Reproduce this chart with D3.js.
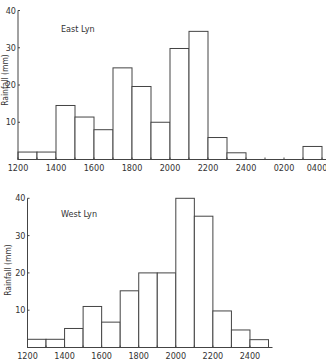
<!DOCTYPE html>
<html>
<head>
<meta charset="utf-8">
<script src="https://cdn.jsdelivr.net/npm/d3@7"></script>
<style>
  body { margin: 0; background: #fff; }
  text { font-family: "Liberation Sans Narrow", "DejaVu Sans Condensed", "Liberation Sans", sans-serif; fill: #333; }
</style>
</head>
<body>
<div id="chart-container"></div>
<script>
// Bin edges (hour labels) and rainfall per bin
const eastEdges = ["1200", "1300", "1400", "1500", "1600", "1700", "1800", "1900", "2000",
    "2100", "2200", "2300", "2400", "0100", "0200", "0300", "0400"];
const eastValues = [2, 2, 14.5, 11.4, 8, 24.6, 19.6, 10, 29.8, 34.4, 5.9, 1.8, 0, 0, 0, 3.5];
const eastTickLabels = ["1200", "1400", "1600", "1800", "2000", "2200", "2400", "0200", "0400"];

const westEdges = ["1200", "1300", "1400", "1500", "1600", "1700", "1800", "1900", "2000",
    "2100", "2200", "2300", "2400", "2500"];
const westValues = [2.2, 2.2, 5.1, 11, 6.8, 15.2, 20, 20, 40, 35.2, 9.8, 4.7, 2.1];
const westTickLabels = ["1200", "1400", "1600", "1800", "2000", "2200", "2400"];

const yTicks = [10, 20, 30, 40];

const svg = d3.select('#chart-container')
    .append('svg')
    .attr('width', 326)
    .attr('height', 361);

function drawPanel(opts) {
    const g = svg.append('g');

    const xScale = d3.scalePoint()
        .domain(opts.edges)
        .range([opts.x0, opts.x1]);

    const yScale = d3.scaleLinear()
        .domain([0, 40])
        .range([opts.yBase, opts.yTop]);

    // Bars
    g.selectAll('.bar')
        .data(opts.values)
        .enter()
        .append('rect')
        .attr('class', 'bar')
        .attr('x', (d, i) => xScale(opts.edges[i]))
        .attr('y', d => yScale(d))
        .attr('width', (d, i) => xScale(opts.edges[i + 1]) - xScale(opts.edges[i]))
        .attr('height', d => yScale(0) - yScale(d))
        .attr('fill', '#fff')
        .attr('stroke', '#444')
        .attr('stroke-width', 1);

    // x-axis line
    g.append('line')
        .attr('x1', opts.x0).attr('x2', opts.axisEnd)
        .attr('y1', yScale(0)).attr('y2', yScale(0))
        .attr('stroke', '#444');

    // small inward ticks on x-axis
    g.selectAll('.xtick')
        .data(opts.edges)
        .enter()
        .append('line')
        .attr('x1', d => xScale(d)).attr('x2', d => xScale(d))
        .attr('y1', yScale(0)).attr('y2', yScale(0) - 2)
        .attr('stroke', '#444');

    // last label would run off the page, so pin it to the right edge
    g.selectAll('.xlabel')
        .data(opts.tickLabels)
        .enter()
        .append('text')
        .attr('x', d => Math.min(xScale(d), 325 - 8))
        .attr('y', yScale(0) + 11)
        .attr('text-anchor', 'middle')
        .attr('font-size', 9)
        .text(d => d);

    // y-axis
    g.append('line')
        .attr('x1', opts.x0).attr('x2', opts.x0)
        .attr('y1', yScale(0)).attr('y2', yScale(40))
        .attr('stroke', '#444');

    g.selectAll('.ytick')
        .data(yTicks)
        .enter()
        .append('line')
        .attr('x1', opts.x0).attr('x2', opts.x0 + 2)
        .attr('y1', d => yScale(d)).attr('y2', d => yScale(d))
        .attr('stroke', '#444');

    g.selectAll('.ylabel')
        .data(yTicks)
        .enter()
        .append('text')
        .attr('x', opts.x0 - 2)
        .attr('y', d => yScale(d) + 3)
        .attr('text-anchor', 'end')
        .attr('font-size', 9)
        .text(d => d);

    // y-axis title
    g.append('text')
        .attr('transform', `translate(${opts.titleX},${opts.titleY}) rotate(-90)`)
        .attr('text-anchor', 'middle')
        .attr('font-size', 8.5)
        .text('Rainfall (mm)');

    // panel label
    g.append('text')
        .attr('x', 61)
        .attr('y', opts.labelY)
        .attr('font-size', 9)
        .text(opts.name);
}

drawPanel({
    edges: eastEdges, values: eastValues, tickLabels: eastTickLabels,
    x0: 18, x1: 322, axisEnd: 326, yBase: 159.5, yTop: 10.5,
    titleX: 8, titleY: 80, labelY: 32, name: 'East Lyn'
});

drawPanel({
    edges: westEdges, values: westValues, tickLabels: westTickLabels,
    x0: 27.5, x1: 268.5, axisEnd: 272.5, yBase: 347.5, yTop: 198.3,
    titleX: 11, titleY: 270, labelY: 216.5, name: 'West Lyn'
});
</script>
</body>
</html>
